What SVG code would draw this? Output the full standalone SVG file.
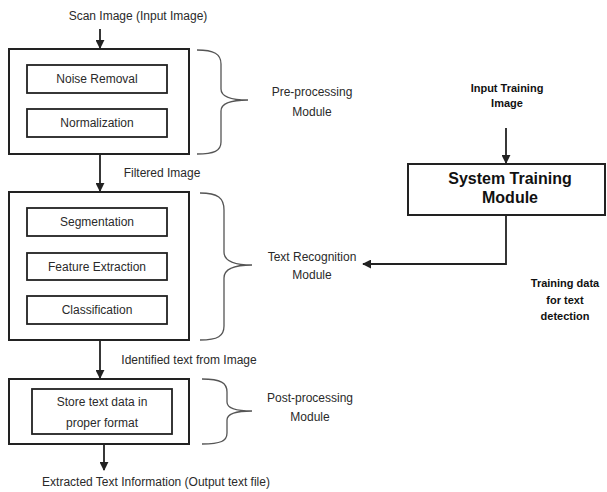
<svg xmlns="http://www.w3.org/2000/svg" width="607" height="492" viewBox="0 0 607 492">
<style>
.t{font-family:"Liberation Sans",Arial,sans-serif;font-size:12px;fill:#2a2a2a;text-anchor:middle}
.b{font-family:"Liberation Sans",Arial,sans-serif;font-weight:bold;fill:#111;text-anchor:middle}
.box{fill:#fff;stroke:#222;stroke-width:2}
.in{fill:#fff;stroke:#222;stroke-width:1.8}
.br{fill:none;stroke:#555;stroke-width:1.3}
.ln{fill:none;stroke:#222;stroke-width:1.8}
</style>
<defs>
<marker id="ah" viewBox="0 0 10 10" refX="9" refY="5" markerWidth="5" markerHeight="5" orient="auto-start-reverse">
<path d="M0,0 L10,5 L0,10 z" fill="#222"/>
</marker>
</defs>
<rect width="607" height="492" fill="#fff"/>
<g id="connectors">
<line class="ln" x1="100" y1="29" x2="100" y2="48" marker-end="url(#ah)"/>
<line class="ln" x1="100" y1="154" x2="100" y2="191" marker-end="url(#ah)"/>
<line class="ln" x1="100" y1="340" x2="100" y2="378" marker-end="url(#ah)"/>
<line class="ln" x1="104" y1="444" x2="104" y2="470" marker-end="url(#ah)"/>
<line class="ln" x1="506" y1="128" x2="506" y2="163" marker-end="url(#ah)"/>
<polyline class="ln" points="506,215 506,264 363,264" marker-end="url(#ah)"/>
</g>
<g id="scan-label"><text class="t" x="138" y="20">Scan Image (Input Image)</text></g>
<g id="preproc">
<rect class="box" x="9" y="49" width="180" height="105"/>
<g id="noise"><rect class="in" x="27" y="65" width="140" height="28"/><text class="t" x="97" y="83">Noise Removal</text></g>
<g id="norm"><rect class="in" x="27" y="109" width="140" height="28"/><text class="t" x="97" y="127">Normalization</text></g>
</g>
<g id="brace1">
<path class="br" d="M197,50 C214,50 221,54 221,64 L221,89 C221,96 230,100 248,100 C230,100 221,104 221,111 L221,142 C221,151 214,154 197,154"/>
<text class="t" x="312" y="96">Pre-processing</text><text class="t" x="312" y="116">Module</text>
</g>
<g id="filtered-label"><text class="t" x="162" y="177">Filtered Image</text></g>
<g id="recog">
<rect class="box" x="9" y="192" width="180" height="148"/>
<g id="seg"><rect class="in" x="27" y="208" width="140" height="28"/><text class="t" x="97" y="226">Segmentation</text></g>
<g id="feat"><rect class="in" x="27" y="253" width="140" height="27"/><text class="t" x="97" y="271">Feature Extraction</text></g>
<g id="class"><rect class="in" x="27" y="296" width="140" height="28"/><text class="t" x="97" y="314">Classification</text></g>
</g>
<g id="brace2">
<path class="br" d="M200,193 C218,193 224,198 224,210 L224,252 C224,260 233,265 252,265 C233,265 224,270 224,278 L224,326 C224,336 218,340 200,340"/>
<text class="t" x="312" y="261">Text Recognition</text><text class="t" x="312" y="279">Module</text>
</g>
<g id="identified-label"><text class="t" x="189" y="364">Identified text from Image</text></g>
<g id="postproc">
<rect class="box" x="9" y="379" width="180" height="65"/>
<g id="store"><rect class="in" x="32" y="389" width="140" height="45"/><text class="t" x="102" y="406">Store text data in</text><text class="t" x="102" y="427">proper format</text></g>
</g>
<g id="brace3">
<path class="br" d="M202,379 C221,379 227,383 227,392 L227,402 C227,408 236,411 252,411 C236,411 227,414 227,420 L227,433 C227,441 221,444 202,444"/>
<text class="t" x="310" y="402">Post-processing</text><text class="t" x="310" y="421">Module</text>
</g>
<g id="extracted-label"><text class="t" x="156" y="486">Extracted Text Information (Output text file)</text></g>
<g id="input-training"><text class="b" font-size="11" x="507" y="92">Input Training</text><text class="b" font-size="11" x="507" y="107">Image</text></g>
<g id="system-training">
<rect class="box" x="408" y="164" width="197" height="51"/>
<text class="b" font-size="16" x="510" y="184">System Training</text>
<text class="b" font-size="16" x="510" y="203">Module</text>
</g>
<g id="training-data"><text class="b" font-size="11" x="565" y="287">Training data</text><text class="b" font-size="11" x="565" y="304">for  text</text><text class="b" font-size="11" x="565" y="320">detection</text></g>
</svg>
